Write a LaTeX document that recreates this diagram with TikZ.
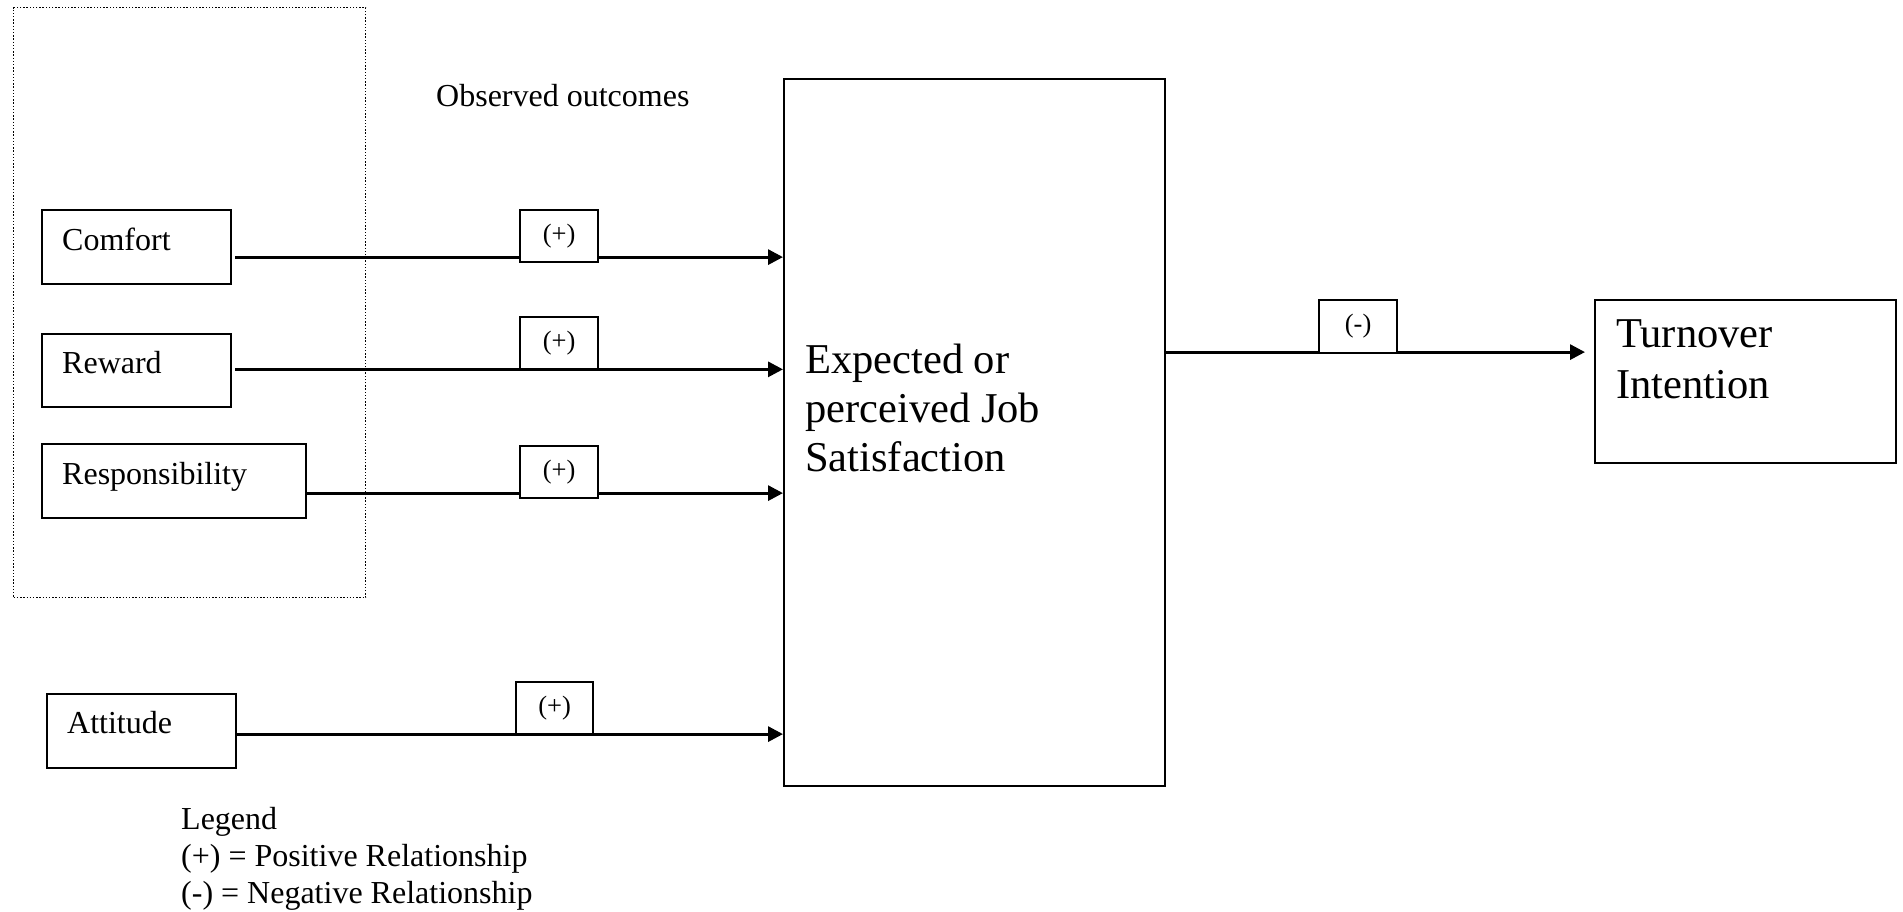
\documentclass[tikz,border=0pt]{standalone}
\usepackage{fontspec}
\setmainfont{Liberation Serif}
\usetikzlibrary{arrows.meta,calc}
\begin{document}
\begin{tikzpicture}[x=1pt,y=-1pt,
  box/.style={draw,line width=2.2pt,inner sep=0pt,anchor=north west},
  lab/.style={draw,fill=white,line width=2.2pt,inner sep=0pt,anchor=north west,font=\fontsize{26.5}{30}\selectfont},
  conn/.style={line width=3pt,-{Triangle[length=15pt,width=15pt]}},
  txt/.style={inner sep=0pt,anchor=base west,font=\fontsize{32}{36.7}\selectfont},
  big/.style={inner sep=0pt,anchor=base west,align=left,font=\fontsize{42.5}{49}\selectfont},
]
\useasboundingbox (0,0) rectangle (1903,912);
% dotted group
\node[draw,dash pattern=on 1.4pt off 1.8pt,line width=1.4pt,anchor=north west,minimum width=352pt,minimum height=590pt,inner sep=0pt] (group) at (13,7) {};
% boxes
\node[box,minimum width=189pt,minimum height=74pt] (comfort) at (41,209) {};
\node[box,minimum width=189pt,minimum height=73.5pt] (reward) at (41,332.5) {};
\node[box,minimum width=264pt,minimum height=74pt] (resp) at (41,443) {};
\node[box,minimum width=189pt,minimum height=74pt] (att) at (46,693) {};
\node[box,minimum width=381pt,minimum height=707pt] (central) at (783,78) {};
\node[box,minimum width=301pt,minimum height=163pt] (turn) at (1594,299) {};
% texts
\node[txt] (obs) at (436,107) {Observed outcomes};
\node[txt] (comforttxt) at (62,251) {Comfort};
\node[txt] (rewardtxt) at (62,373) {Reward};
\node[txt] (resptxt) at (62,484) {Responsibility};
\node[txt] (atttxt) at (67,733) {Attitude};
\node[big] (centraltxt) at (805,471) {Expected or\\perceived Job\\Satisfaction};
\node[big,font=\fontsize{42.5}{51}\selectfont] (turntxt) at (1616,398) {Turnover\\Intention};
\node[txt,align=left] (legend) at (181,903) {Legend\\(+) = Positive Relationship\\(-) = Negative Relationship};
% connectors
\coordinate (s1) at ($(comfort.east)+(3,10)$);
\coordinate (s2) at ($(reward.east)+(3,-1)$);
\coordinate (s3) at ($(resp.east)+(0,12)$);
\coordinate (s4) at ($(att.east)+(0,3)$);
\coordinate (s5) at ($(central.east)+(0,-80.5)$);
\draw[conn] (s1) -- (s1 -| central.west);
\draw[conn] (s2) -- (s2 -| central.west);
\draw[conn] (s3) -- (s3 -| central.west);
\draw[conn] (s4) -- (s4 -| central.west);
\draw[conn,shorten >=9pt] (s5) -- (s5 -| turn.west);
% relation labels
\node[lab,minimum width=78pt,minimum height=52pt] (l1) at (519,209) {(+)};
\node[lab,minimum width=78pt,minimum height=52pt] (l2) at (519,316) {(+)};
\node[lab,minimum width=78pt,minimum height=52pt] (l3) at (519,445) {(+)};
\node[lab,minimum width=77pt,minimum height=52pt] (l4) at (515,681) {(+)};
\node[lab,minimum width=78pt,minimum height=53pt] (lm) at (1318,299) {(-)};
\end{tikzpicture}
\end{document}
